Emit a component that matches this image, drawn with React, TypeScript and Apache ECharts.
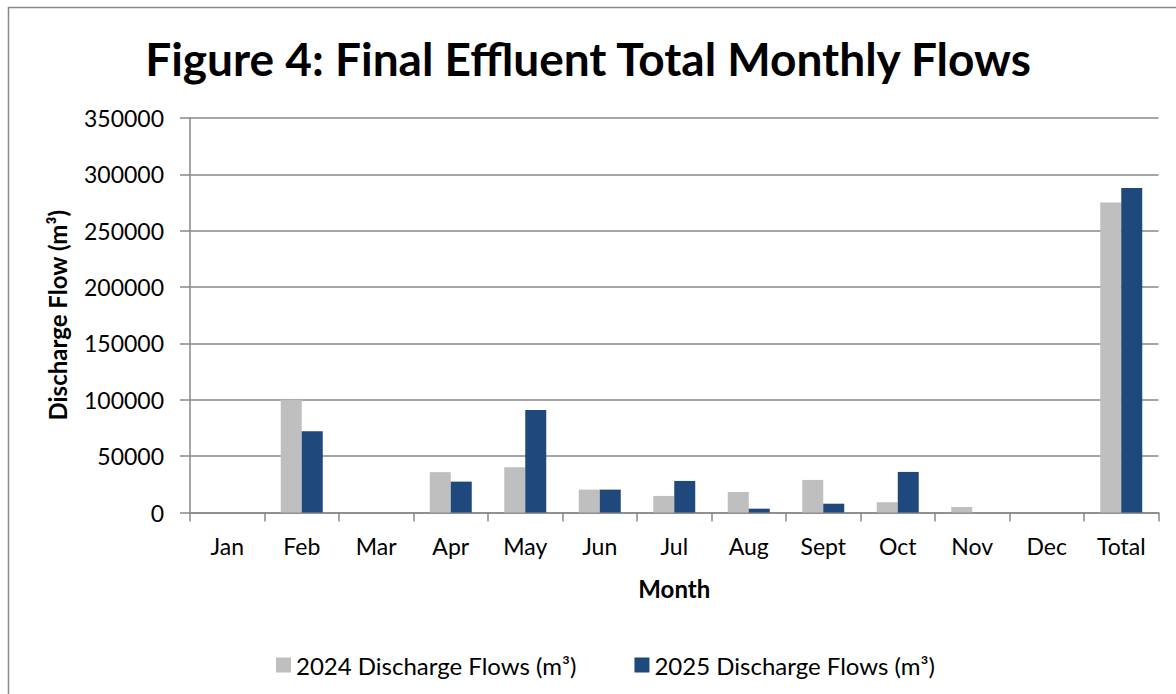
import React, { useEffect, useRef } from "react";
import * as echarts from "echarts";

const categories = ["Jan", "Feb", "Mar", "Apr", "May", "Jun", "Jul", "Aug", "Sept", "Oct", "Nov", "Dec", "Total"];
const flows2024 = [0, 100000, 0, 35800, 40200, 20300, 14700, 18200, 28900, 9100, 4900, 0, 275000];
const flows2025 = [0, 72000, 0, 27400, 90900, 20300, 28000, 3400, 7800, 36000, 0, 0, 288000];
const seriesNames = ["2024 Discharge Flows (m³)", "2025 Discharge Flows (m³)"];
const titleText = "Figure 4: Final Effluent Total Monthly Flows";
const yAxisName = "Discharge Flow (m³)";
const xAxisName = "Month";

const FONT = "Lato, 'Open Sans', sans-serif";
const AXIS_GRAY = "#898989";

export default function App() {
  const ref = useRef<HTMLDivElement>(null);
  useEffect(() => {
    if (!ref.current) return;
    const chart = echarts.init(ref.current, null, { renderer: "svg" });
    chart.setOption({
      animation: false,
      backgroundColor: "#ffffff",
      textStyle: { fontFamily: FONT, color: "#000" },
      title: {
        text: titleText,
        left: "center",
        top: 30,
        textStyle: { fontFamily: FONT, fontSize: 46, fontWeight: "bold", color: "#000" },
      },
      graphic: [
        {
          type: "rect",
          shape: { x: 8.5, y: 7.5, width: 1200, height: 720 },
          style: { fill: "none", stroke: AXIS_GRAY, lineWidth: 1.5 },
          silent: true,
        },
      ],
      legend: {
        left: 271,
        top: 648,
        itemWidth: 15,
        itemHeight: 15,
        itemGap: 58,
        icon: "rect",
        textStyle: { fontFamily: FONT, fontSize: 24, color: "#000" },
        data: seriesNames,
      },
      grid: { left: 190, right: 17.5, top: 118, bottom: 181.5 },
      xAxis: {
        type: "category",
        data: categories,
        name: xAxisName,
        nameLocation: "middle",
        nameGap: 64,
        nameTextStyle: { fontFamily: FONT, fontSize: 24, fontWeight: "bold", color: "#000" },
        axisLine: { lineStyle: { color: AXIS_GRAY, width: 1.5 } },
        axisTick: { show: true, length: 9, interval: 0, alignWithLabel: false, lineStyle: { color: AXIS_GRAY, width: 1.5 } },
        axisLabel: { interval: 0, fontFamily: FONT, fontSize: 23, color: "#000", margin: 22 },
      },
      yAxis: {
        type: "value",
        min: 0,
        max: 350000,
        interval: 50000,
        name: yAxisName,
        nameLocation: "middle",
        nameGap: 121,
        nameTextStyle: { fontFamily: FONT, fontSize: 24, fontWeight: "bold", color: "#000" },
        axisLine: { show: true, lineStyle: { color: AXIS_GRAY, width: 1.5 } },
        axisTick: { show: true, length: 10, lineStyle: { color: AXIS_GRAY, width: 1.5 } },
        axisLabel: {
          fontFamily: FONT,
          fontSize: 23,
          color: "#000",
          margin: 26,
          formatter: (v: number) => String(v),
        },
        splitLine: { show: true, lineStyle: { color: AXIS_GRAY, width: 1.5 } },
      },
      series: [
        {
          name: seriesNames[0],
          type: "bar",
          data: flows2024,
          barWidth: 21,
          barGap: "0%",
          itemStyle: { color: "#BFBFBF" },
        },
        {
          name: seriesNames[1],
          type: "bar",
          data: flows2025,
          barWidth: 21,
          barGap: "0%",
          itemStyle: { color: "#1F497D" },
        },
      ],
    });
    return () => chart.dispose();
  }, []);
  return (
    <div
      ref={ref}
      style={{ position: "absolute", left: 0, top: 0, width: 1176, height: 694 }}
    />
  );
}
